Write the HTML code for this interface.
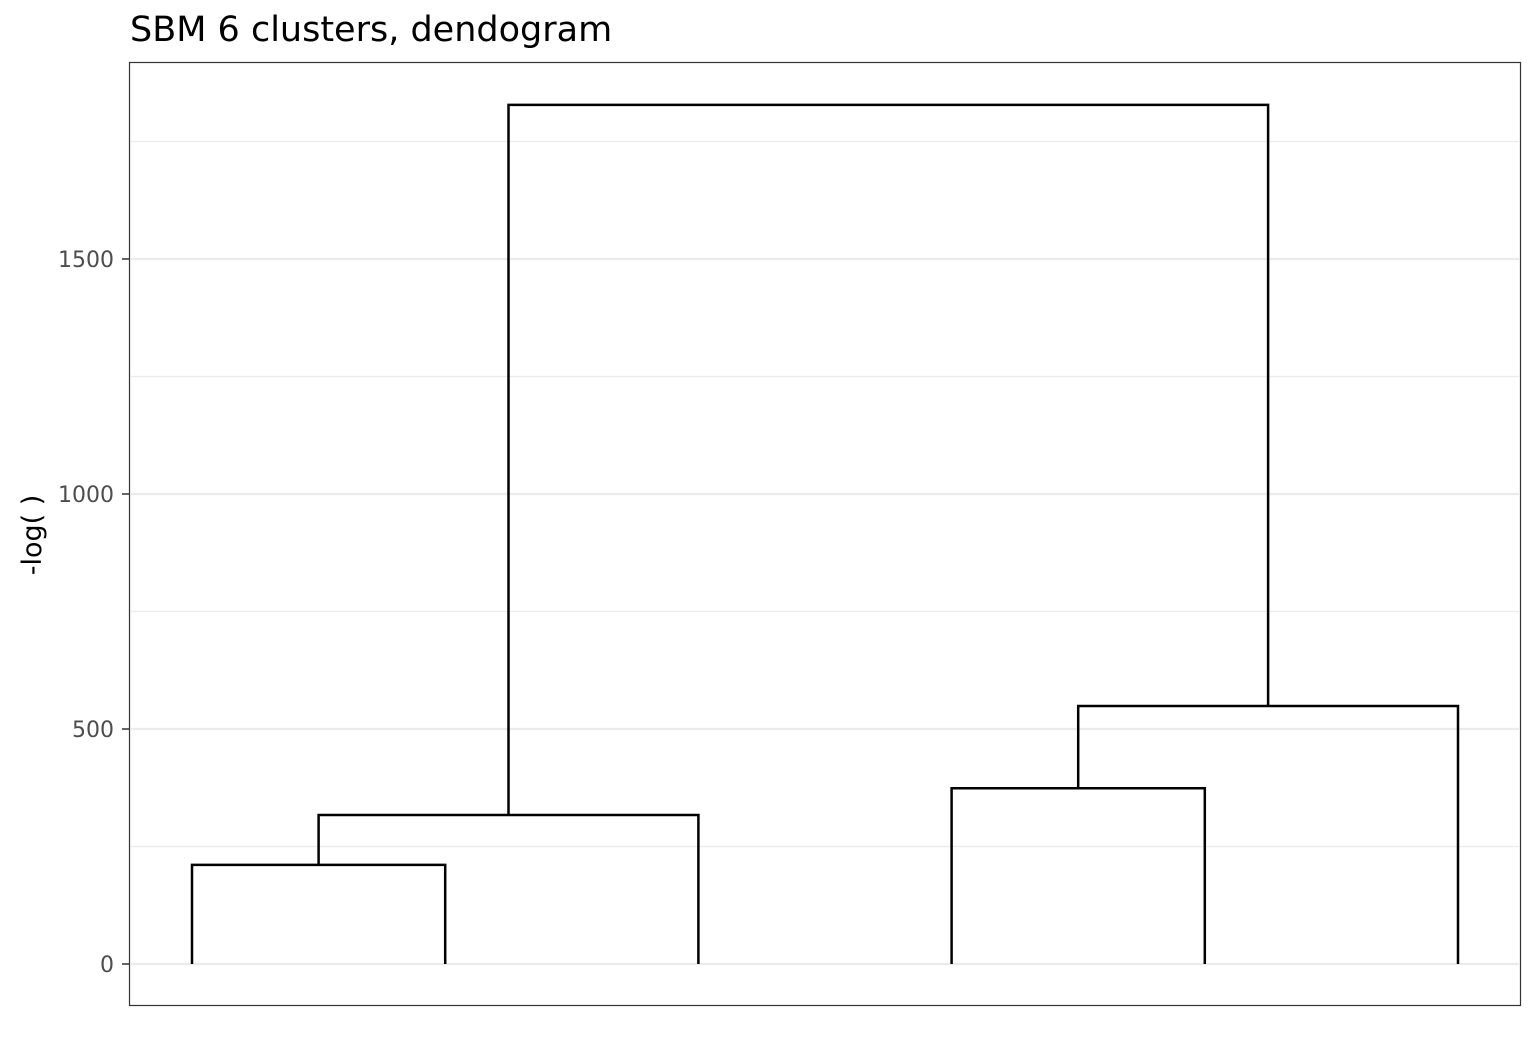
<!DOCTYPE html>
<html><head><meta charset="utf-8"><style>
html,body{margin:0;padding:0;background:#fff;}
svg text{font-family:"DejaVu Sans","Liberation Sans",sans-serif;}
</style></head><body>
<svg id="chart" width="1536" height="1056" xmlns="http://www.w3.org/2000/svg">
<text x="130" y="41" font-size="35" fill="#000">SBM 6 clusters, dendogram</text>
<rect x="129.5" y="62.5" width="1391" height="943" fill="#fff" stroke="#333" stroke-width="1.2"/>
<g id="grid"></g>
<g id="yaxis"></g>
<g id="links"></g>
<text transform="translate(41,535) rotate(-90)" text-anchor="middle" font-size="27" fill="#000">-log( )</text>
</svg>
<script>
const leaves = [1, 2, 3, 4, 5, 6];
// merges: [left child, right child, height]; positive = leaf index, negative = prior merge (-1 = first)
const mergeLeft = [1, -1, 4, -3, -2];
const mergeRight = [2, 3, 5, 6, -4];
const mergeHeight = [211, 317, 374, 549, 1828];
const yTicks = [0, 500, 1000, 1500];
const yMinorTicks = [250, 750, 1250, 1750];

const NS = "http://www.w3.org/2000/svg";
const yScale = v => 964 - v * 0.47;
const xScale = i => 192 + (i - 1) * 253.2;

const grid = document.getElementById('grid');
const yaxis = document.getElementById('yaxis');
const links = document.getElementById('links');
function mk(tag, attrs, parent) {
  const e = document.createElementNS(NS, tag);
  for (const k in attrs) e.setAttribute(k, attrs[k]);
  parent.appendChild(e);
  return e;
}
yMinorTicks.forEach(t => {
  const l = mk('line', {x1:130, x2:1520, y1:yScale(t), y2:yScale(t), stroke:'#ebebeb', 'stroke-width':1.2}, grid);
  
  
});
yTicks.forEach(t => {
  const y = yScale(t);
  const l = mk('line', {x1:130, x2:1520, y1:y, y2:y, stroke:'#ebebeb', 'stroke-width':2.2}, grid);
  
  
  const tk = mk('line', {x1:122, x2:129, y1:y, y2:y, stroke:'#333', 'stroke-width':1.5}, yaxis);
  
  
  const tx = mk('text', {x:114, y:y + 8, 'text-anchor':'end', 'font-size':22, fill:'#4d4d4d'}, yaxis);
  tx.textContent = t;
  
  
});
const nodeX = [], nodeY = [];
function pos(c) {
  if (c > 0) return [xScale(c), yScale(0)];
  return [nodeX[-c - 1], nodeY[-c - 1]];
}
mergeHeight.forEach((h, i) => {
  const [xl, yl] = pos(mergeLeft[i]);
  const [xr, yr] = pos(mergeRight[i]);
  const y = yScale(h);
  const p = mk('path', {d:`M${xl},${yl}V${y}H${xr}V${yr}`, fill:'none', stroke:'#000', 'stroke-width':2.5}, links);
  
  
  nodeX.push((xl + xr) / 2);
  nodeY.push(y);
});
</script>
</body></html>
